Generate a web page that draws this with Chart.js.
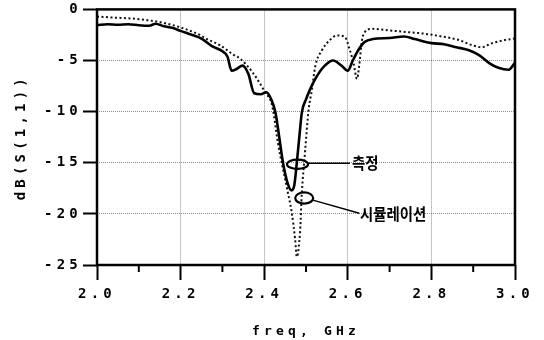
<!DOCTYPE html>
<html>
<head>
<meta charset="utf-8">
<script src="https://cdn.jsdelivr.net/npm/chart.js@4/dist/chart.umd.min.js"></script>
<style>
  html, body { margin: 0; padding: 0; background: #fff; }
  canvas { display: block; }
</style>
</head>
<body>
<canvas id="chart" width="544" height="340"></canvas>
<script>
/* global Chart */

// measured S11 (solid)
const measFreq = [2.000, 2.025, 2.050, 2.075, 2.100, 2.125, 2.140, 2.160, 2.180, 2.200, 2.225, 2.250, 2.275, 2.300, 2.312, 2.322, 2.335, 2.348, 2.362, 2.376, 2.392, 2.405, 2.418, 2.427, 2.436, 2.445, 2.456, 2.465, 2.472, 2.478, 2.484, 2.490, 2.500, 2.510, 2.525, 2.545, 2.565, 2.585, 2.600, 2.612, 2.625, 2.640, 2.660, 2.700, 2.735, 2.760, 2.800, 2.830, 2.860, 2.890, 2.915, 2.940, 2.960, 2.985, 3.000];
const measDb = [-1.55, -1.45, -1.50, -1.45, -1.55, -1.60, -1.40, -1.65, -1.80, -2.10, -2.45, -2.85, -3.60, -4.10, -4.60, -6.00, -5.80, -5.50, -6.30, -8.20, -8.30, -8.10, -8.90, -10.1, -12.5, -15.0, -17.0, -17.7, -17.2, -15.0, -12.5, -10.1, -8.8, -7.8, -6.6, -5.5, -5.0, -5.5, -6.0, -5.0, -4.0, -3.2, -2.9, -2.8, -2.65, -2.9, -3.3, -3.4, -3.7, -4.0, -4.5, -5.3, -5.7, -5.9, -5.2];

// simulated S11 (dotted)
const simFreq = [2.000, 2.040, 2.086, 2.120, 2.151, 2.199, 2.246, 2.263, 2.294, 2.325, 2.342, 2.373, 2.402, 2.419, 2.433, 2.454, 2.466, 2.474, 2.478, 2.486, 2.490, 2.498, 2.506, 2.514, 2.522, 2.538, 2.557, 2.574, 2.593, 2.605, 2.614, 2.622, 2.627, 2.634, 2.641, 2.658, 2.699, 2.737, 2.778, 2.818, 2.866, 2.897, 2.921, 2.945, 2.976, 3.000];
const simDb = [-0.70, -0.80, -0.90, -1.05, -1.25, -1.75, -2.50, -2.90, -3.50, -4.40, -4.80, -6.20, -8.10, -9.40, -13.1, -17.4, -19.9, -22.5, -24.2, -21.6, -18.0, -13.8, -9.9, -7.9, -5.6, -4.0, -3.0, -2.55, -2.7, -4.0, -5.3, -6.8, -5.6, -3.0, -2.2, -1.9, -2.05, -2.2, -2.35, -2.6, -3.0, -3.5, -3.7, -3.3, -3.0, -2.85];

const xTicks = [2.0, 2.2, 2.4, 2.6, 2.8, 3.0];
const xMinorTicks = [2.1, 2.3, 2.5, 2.7, 2.9];
const yTicks = [0, -5, -10, -15, -20, -25];
const labelMeas = '측정';
const labelSim = '시뮬레이션';

const toPoints = (xs, ys) => xs.map((x, i) => ({ x: x, y: ys[i] }));

Chart.defaults.font.family = '"DejaVu Sans Mono", monospace';
Chart.defaults.font.size = 14;
Chart.defaults.font.weight = 'bold';
Chart.defaults.color = '#000';

// wide letter spacing like the old plotter font, frame + minor ticks
const plotFrame = {
  id: 'plotFrame',
  beforeLayout(chart) { chart.ctx.letterSpacing = '4.2px'; },
  beforeDraw(chart) { chart.ctx.letterSpacing = '4.2px'; },
  afterDraw(chart) {
    const { ctx, chartArea: a, scales: { x } } = chart;
    ctx.save();
    ctx.strokeStyle = '#000';
    ctx.lineWidth = 2.5;
    ctx.strokeRect(a.left, a.top, a.right - a.left, a.bottom - a.top);
    ctx.lineWidth = 2;
    xMinorTicks.forEach(v => {
      const px = x.getPixelForValue(v);
      ctx.beginPath();
      ctx.moveTo(px, a.bottom);
      ctx.lineTo(px, a.bottom + 7);
      ctx.stroke();
    });
    ctx.restore();
  }
};

// rings and leader lines pointing at the curves
const notes = [
  { text: labelMeas, ring: [2.4797, -15.15], rx: 10.5, ry: 4.6, from: [2.5048, -15.05], to: [2.605, -15.05], at: [2.610, -15.0] },
  { text: labelSim, ring: [2.4957, -18.45], rx: 9, ry: 5.6, from: [2.5144, -18.63], to: [2.6275, -19.93], at: [2.629, -20.05] }
];

const callouts = {
  id: 'callouts',
  afterDatasetsDraw(chart) {
    const { ctx, scales: { x, y } } = chart;
    const px = v => x.getPixelForValue(v);
    const py = v => y.getPixelForValue(v);
    ctx.save();
    ctx.letterSpacing = '0px';
    ctx.strokeStyle = '#000';
    ctx.fillStyle = '#000';
    notes.forEach(n => {
      ctx.lineWidth = 2.2;
      ctx.beginPath();
      ctx.ellipse(px(n.ring[0]), py(n.ring[1]), n.rx, n.ry, 0, 0, Math.PI * 2);
      ctx.stroke();
      ctx.lineWidth = 1.5;
      ctx.beginPath();
      ctx.moveTo(px(n.from[0]), py(n.from[1]));
      ctx.lineTo(px(n.to[0]), py(n.to[1]));
      ctx.stroke();
      ctx.save();
      ctx.translate(px(n.at[0]), py(n.at[1]));
      ctx.scale(0.9, 1);
      ctx.font = 'bold 16px "Noto Sans CJK KR"';
      ctx.textBaseline = 'middle';
      ctx.textAlign = 'left';
      ctx.fillText(n.text, 0, 0);
      ctx.restore();
    });
    ctx.restore();
  }
};

// eslint-disable-next-line no-unused-vars
const s11Chart = new Chart(document.getElementById('chart'), {
  type: 'line',
  data: {
    datasets: [{
      label: labelMeas,
      data: toPoints(measFreq, measDb),
      borderColor: '#000',
      borderWidth: 2.6,
      pointRadius: 0,
      cubicInterpolationMode: 'monotone'
    }, {
      label: labelSim,
      data: toPoints(simFreq, simDb),
      borderColor: '#111',
      borderWidth: 2,
      borderDash: [2, 2.5],
      pointRadius: 0,
      cubicInterpolationMode: 'monotone'
    }]
  },
  options: {
    responsive: false,
    animation: false,
    devicePixelRatio: 1,
    layout: { padding: { top: 9, right: 29, bottom: 0, left: 0 } },
    plugins: { legend: { display: false }, tooltip: { enabled: false } },
    scales: {
      x: {
        type: 'linear',
        min: 2,
        max: 3,
        afterBuildTicks: s => { s.ticks = xTicks.map(v => ({ value: v })); },
        afterFit: s => { s.height = 75; },
        ticks: { callback: v => v.toFixed(1), autoSkip: false, maxRotation: 0, padding: 6 },
        grid: { color: 'rgba(0,0,0,0.45)', lineWidth: 1, tickColor: '#000', tickWidth: 2, tickLength: 15 },
        border: { display: false, dash: [1, 1] },
        title: { display: true, text: 'freq, GHz', font: { size: 13 }, padding: { top: 0, bottom: 1 } }
      },
      y: {
        min: -25,
        max: 0,
        afterBuildTicks: s => { s.ticks = yTicks.map(v => ({ value: v })); },
        afterFit: s => { s.width = 97; },
        ticks: { callback: v => String(v), autoSkip: false, padding: 1 },
        grid: { color: 'rgba(0,0,0,0.45)', lineWidth: 1, tickColor: '#000', tickWidth: 2, tickLength: 14 },
        border: { display: false, dash: [1, 1] },
        title: { display: true, text: 'dB(S(1,1))', font: { size: 14 }, padding: { top: 13, bottom: 0 } }
      }
    }
  },
  plugins: [plotFrame, callouts]
});
</script>
</body>
</html>
